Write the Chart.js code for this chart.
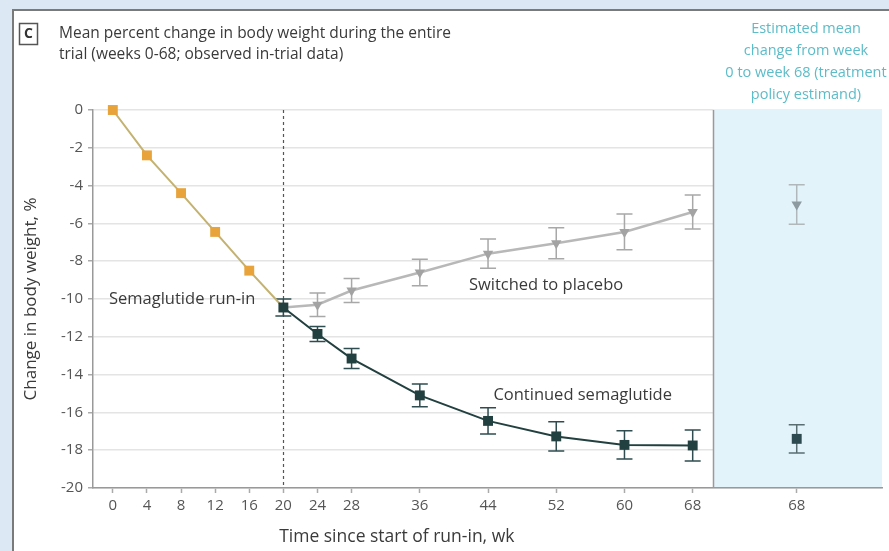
<!DOCTYPE html>
<html>
<head>
<meta charset="utf-8">
<script src="https://cdn.jsdelivr.net/npm/chart.js@4.4.1/dist/chart.umd.min.js"></script>
<style>
  html, body { margin: 0; padding: 0; background: #dce8f4; }
  #wrap { width: 889px; height: 551px; }
</style>
</head>
<body>
<div id="wrap"><canvas id="chart" width="889" height="551"></canvas></div>
<script>
// weeks 0-20: everyone on semaglutide
const runInWeeks = [0, 4, 8, 12, 16, 20];
const runInChange = [0, -2.4, -4.4, -6.45, -8.5, -10.45];

// weeks 20-68: randomised
const trialWeeks = [20, 24, 28, 36, 44, 52, 60, 68];
const semaChange = [-10.45, -11.85, -13.15, -15.1, -16.45, -17.27, -17.72, -17.75];
const semaError = [0.45, 0.4, 0.53, 0.6, 0.69, 0.77, 0.75, 0.82];
const placeboChange = [-10.45, -10.3, -9.55, -8.6, -7.6, -7.05, -6.45, -5.4];
const placeboError = [0, 0.62, 0.63, 0.7, 0.77, 0.82, 0.95, 0.9];

// treatment policy estimand, week 0 to 68
const estimateLabel = '68';
const estimatePlacebo = [-5.0];
const estimatePlaceboError = [1.05];
const estimateSema = [-17.4];
const estimateSemaError = [0.75];

const xTickWeeks = [0, 4, 8, 12, 16, 20, 24, 28, 36, 44, 52, 60, 68];
const yTickValues = [0, -2, -4, -6, -8, -10, -12, -14, -16, -18, -20];

const titleLines = ['Mean percent change in body weight during the entire', 'trial (weeks 0-68; observed in-trial data)'];
const estimateHeader = ['Estimated mean', 'change from week', '0 to week 68 (treatment', 'policy estimand)'];

// layout (scale units)
const SWITCH_WEEK = 20;
const PANEL_SPLIT = 70.44;
const ESTIMATE_SLOT = 80.2;

const FONT = "'Open Sans', 'DejaVu Sans', sans-serif";
const ORANGE = '#e8a33a';
const DARK = '#21403f';
const GREY = '#a3a3a3';

const pts = (xs, ys) => xs.map((x, i) => ({ x: x, y: ys[i] }));

const frame = {
  id: 'frame',
  beforeDraw(chart) {
    const ctx = chart.ctx;
    ctx.save();
    ctx.fillStyle = '#dce8f4';
    ctx.fillRect(0, 0, chart.width, chart.height);
    ctx.fillStyle = '#ffffff';
    ctx.fillRect(13, 10, chart.width - 13, chart.height - 10);
    ctx.strokeStyle = '#7a7a7a';
    ctx.lineWidth = 2;
    ctx.beginPath();
    ctx.moveTo(13, chart.height);
    ctx.lineTo(13, 10);
    ctx.lineTo(chart.width, 10);
    ctx.stroke();

    // panel letter
    ctx.lineWidth = 1.5;
    ctx.strokeStyle = '#555';
    ctx.strokeRect(19.5, 23.5, 18, 21);
    ctx.fillStyle = '#333';
    ctx.font = 'bold 14px ' + FONT;
    ctx.textAlign = 'center';
    ctx.textBaseline = 'middle';
    ctx.fillText('C', 28.5, 34.5);

    ctx.font = '15.5px ' + FONT;
    ctx.textAlign = 'left';
    ctx.fillStyle = '#3a3a3a';
    titleLines.forEach((t, i) => ctx.fillText(t, 59, 34 + i * 21));

    ctx.fillStyle = '#5cbcc8';
    ctx.font = '14.5px ' + FONT;
    ctx.textAlign = 'center';
    estimateHeader.forEach((t, i) => ctx.fillText(t, 806, 29 + i * 22));
    ctx.restore();
  },
  beforeDatasetsDraw(chart) {
    const { ctx, chartArea: a, scales: { x, y } } = chart;
    const split = x.getPixelForValue(PANEL_SPLIT);
    ctx.save();
    ctx.fillStyle = '#e3f3fa';
    ctx.fillRect(split, a.top - 1, a.right - split, a.bottom - a.top);
    ctx.strokeStyle = '#9a9a9a';
    ctx.lineWidth = 1.5;
    ctx.beginPath();
    ctx.moveTo(split, a.top);
    ctx.lineTo(split, a.bottom);
    ctx.stroke();

    // switch to placebo
    const sx = Math.round(x.getPixelForValue(SWITCH_WEEK)) + 0.5;
    ctx.strokeStyle = '#555';
    ctx.lineWidth = 1.2;
    ctx.setLineDash([3, 3]);
    ctx.beginPath();
    ctx.moveTo(sx, a.top);
    ctx.lineTo(sx, a.bottom);
    ctx.stroke();
    ctx.setLineDash([]);

    // error bars
    chart.data.datasets.forEach((ds, di) => {
      if (!ds.errorBars) return;
      const meta = chart.getDatasetMeta(di);
      ctx.strokeStyle = ds.errorColor;
      ctx.lineWidth = 1.5;
      meta.data.forEach((p, j) => {
        const e = ds.errorBars[j];
        if (!e) return;
        const v = ds.data[j].y;
        const top = y.getPixelForValue(v + e);
        const bot = y.getPixelForValue(v - e);
        ctx.beginPath();
        ctx.moveTo(p.x, top);
        ctx.lineTo(p.x, bot);
        ctx.moveTo(p.x - 8, top);
        ctx.lineTo(p.x + 8, top);
        ctx.moveTo(p.x - 8, bot);
        ctx.lineTo(p.x + 8, bot);
        ctx.stroke();
      });
    });
    ctx.restore();
  },
  afterDraw(chart) {
    const { ctx, scales: { x, y } } = chart;
    ctx.save();
    ctx.font = '16.5px ' + FONT;
    ctx.fillStyle = '#3a3a3a';
    ctx.textBaseline = 'middle';
    ctx.textAlign = 'left';
    ctx.fillText('Semaglutide run-in', x.getPixelForValue(-0.45), y.getPixelForValue(-10));
    ctx.textAlign = 'center';
    ctx.fillText('Switched to placebo', x.getPixelForValue(50.8), y.getPixelForValue(-9.26));
    ctx.fillText('Continued semaglutide', x.getPixelForValue(55.1), y.getPixelForValue(-15.08));
    ctx.font = '17.5px ' + FONT;
    ctx.fillText('Time since start of run-in, wk', x.getPixelForValue(33.3), 537);
    ctx.restore();
  }
};

new Chart(document.getElementById('chart'), {
  type: 'line',
  data: {
    datasets: [
      {
        label: 'Continued semaglutide',
        data: pts(trialWeeks, semaChange),
        errorBars: semaError,
        errorColor: '#2f4d50',
        borderColor: DARK,
        backgroundColor: DARK,
        borderWidth: 2,
        pointStyle: 'rect',
        pointRadius: 7,
        pointBorderWidth: 0
      },
      {
        label: 'Semaglutide run-in',
        data: pts(runInWeeks, runInChange),
        borderColor: '#c4b271',
        backgroundColor: ORANGE,
        borderWidth: 2,
        pointStyle: 'rect',
        pointRadius: runInWeeks.map(w => w === SWITCH_WEEK ? 0 : 7),
        pointBorderWidth: 0
      },
      {
        label: 'Switched to placebo',
        data: pts(trialWeeks, placeboChange),
        errorBars: placeboError,
        errorColor: '#a8a8a8',
        borderColor: '#b8b8b8',
        backgroundColor: GREY,
        borderWidth: 2.5,
        pointStyle: 'triangle',
        rotation: 180,
        pointRadius: trialWeeks.map(w => w === SWITCH_WEEK ? 0 : 6),
        pointBorderWidth: 0
      },
      {
        label: 'Estimated semaglutide',
        data: estimateSema.map(v => ({ x: ESTIMATE_SLOT, y: v })),
        errorBars: estimateSemaError,
        errorColor: '#5a6e72',
        showLine: false,
        backgroundColor: '#2c4a4f',
        pointStyle: 'rect',
        pointRadius: 7,
        pointBorderWidth: 0
      },
      {
        label: 'Estimated placebo',
        data: estimatePlacebo.map(v => ({ x: ESTIMATE_SLOT, y: v })),
        errorBars: estimatePlaceboError,
        errorColor: '#b0b8bc',
        showLine: false,
        backgroundColor: '#8d9aa0',
        pointStyle: 'triangle',
        rotation: 180,
        pointRadius: 6,
        pointBorderWidth: 0
      }
    ]
  },
  options: {
    responsive: false,
    animation: false,
    clip: false,
    layout: { padding: { top: 110, left: 13, right: 0, bottom: 0 } },
    plugins: { legend: { display: false }, tooltip: { enabled: false } },
    elements: { line: { tension: 0 } },
    scales: {
      x: {
        type: 'linear',
        min: -2.325,
        max: 90.2,
        afterFit(s) { s.height = 63; },
        afterBuildTicks(s) {
          s.ticks = xTickWeeks.map(v => ({ value: v })).concat([{ value: ESTIMATE_SLOT }]);
        },
        ticks: {
          autoSkip: false,
          maxRotation: 0,
          padding: 4,
          color: '#555',
          font: { family: FONT, size: 15 },
          callback: v => v === ESTIMATE_SLOT ? estimateLabel : String(v)
        },
        grid: { drawOnChartArea: false, drawTicks: true, tickLength: 5, tickColor: '#aaa', tickWidth: 1.5 },
        border: { color: '#999', width: 1.5 }
      },
      y: {
        min: -20,
        max: 0,
        afterFit(s) { s.width = 80; },
        afterBuildTicks(s) { s.ticks = yTickValues.map(v => ({ value: v })); },
        ticks: { padding: 5, color: '#555', font: { family: FONT, size: 15 } },
        grid: { color: '#e4e4e4', lineWidth: 1.5, tickLength: 5, tickColor: '#aaa', tickWidth: 1.5 },
        border: { color: '#999', width: 1.5 },
        title: {
          display: true,
          text: 'Change in body weight, %',
          color: '#3a3a3a',
          font: { family: FONT, size: 17 },
          padding: { top: 8, bottom: 0 }
        }
      }
    }
  },
  plugins: [frame]
});
</script>
</body>
</html>
